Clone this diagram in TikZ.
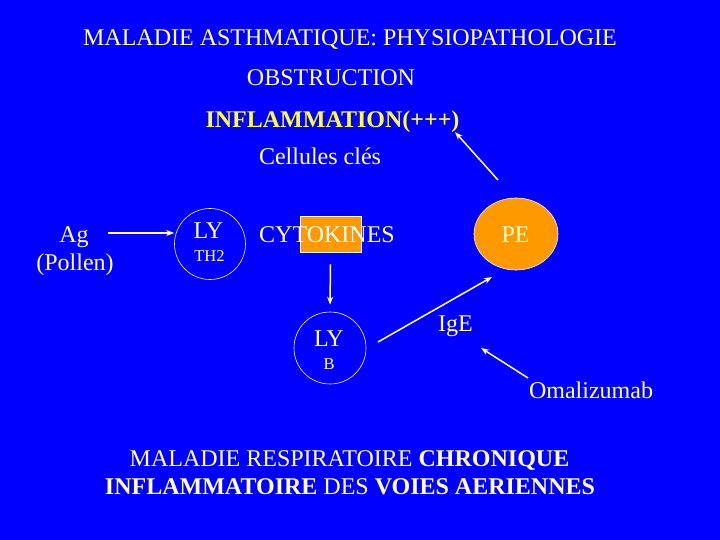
\documentclass[tikz,border=0pt]{standalone}
\usepackage{fontspec}
\setmainfont{Liberation Serif}
\usetikzlibrary{arrows.meta,shapes.geometric}
\definecolor{bg}{RGB}{0,0,255}
\definecolor{paleyellow}{RGB}{255,255,204}
\definecolor{brightyellow}{RGB}{255,255,51}
\definecolor{orangefill}{RGB}{255,153,0}
\begin{document}
\begin{tikzpicture}[x=1pt,y=-1pt,
  txt/.style={text=white,font=\fontsize{24}{28}\selectfont,inner sep=0pt,anchor=base},
  smalltxt/.style={text=white,font=\fontsize{16.5}{20}\selectfont,inner sep=0pt,anchor=base},
  conn/.style={white,line width=1.5pt,-{Stealth[length=8pt,width=6pt]}},
  cell/.style={circle,draw=white,line width=0.6pt,inner sep=0pt}]
\fill[bg] (0,0) rectangle (720,540);
\useasboundingbox (0,0) rectangle (720,540);

% titles
\node[txt,text=paleyellow] (title) at (350,46) {MALADIE ASTHMATIQUE: PHYSIOPATHOLOGIE};
\node[txt] (obs) at (331,86) {OBSTRUCTION};
\node[txt,text=brightyellow,font=\fontsize{24}{28}\selectfont\bfseries] (inflam) at (332.5,128) {INFLAMMATION(+++)};
\node[txt] (cell) at (320,165) {Cellules clés};

% antigen
\node[txt] (ag) at (74,242) {Ag};
\node[txt] (pollen) at (75,270) {(Pollen)};

% LY TH2 cell
\node[cell,minimum size=71pt] (lyth) at (210,244) {};
\node[txt] (lytxt) at (208.5,239) {LY};
\node[smalltxt] (th2) at (209.5,261) {TH2};

% cytokines
\node[draw=white,line width=0.6pt,fill=orangefill,minimum width=61pt,minimum height=36pt,inner sep=0pt] (cbox) at (330.5,234) {};
\node[txt] (cyto) at (327,243) {CYTOKINES};

% PE
\node[ellipse,draw=white,line width=0.6pt,fill=orangefill,minimum width=84pt,minimum height=72pt,inner sep=0pt] (pe) at (516,234) {};
\node[txt,text=paleyellow] (petxt) at (515.5,243) {PE};

% LY B cell
\node[cell,minimum size=72pt] (lyb) at (330,348) {};
\node[txt] (lybtxt) at (329,346) {LY};
\node[smalltxt] (btxt) at (329,369) {B};

% IgE and Omalizumab
\node[txt] (ige) at (455.5,331) {IgE};
\node[txt,text=paleyellow] (omali) at (591,398) {Omalizumab};

% bottom
\node[txt] (bot1) at (349.5,466) {MALADIE RESPIRATOIRE \textbf{CHRONIQUE}};
\node[txt] (bot2) at (350,494) {\textbf{INFLAMMATOIRE} DES \textbf{VOIES AERIENNES}};

% connector ends
\coordinate (agstart) at (108,233);
\coordinate (lybstart) at (378,342);
\coordinate (peend) at (492,277);
\coordinate (pestart) at (498,180);
\coordinate (inflend) at (455,132);
\coordinate (omstart) at (528,378);
\coordinate (igeend) at (481,348);

% connectors
\draw[conn] (agstart) -- (lyth.west |- agstart);
\draw[conn] ([yshift=-12pt]cbox.south) -- ([yshift=7pt]lyb.north);
\draw[conn] (lybstart) -- (peend);
\draw[conn] (pestart) -- (inflend);
\draw[conn] (omstart) -- (igeend);
\end{tikzpicture}
\end{document}
